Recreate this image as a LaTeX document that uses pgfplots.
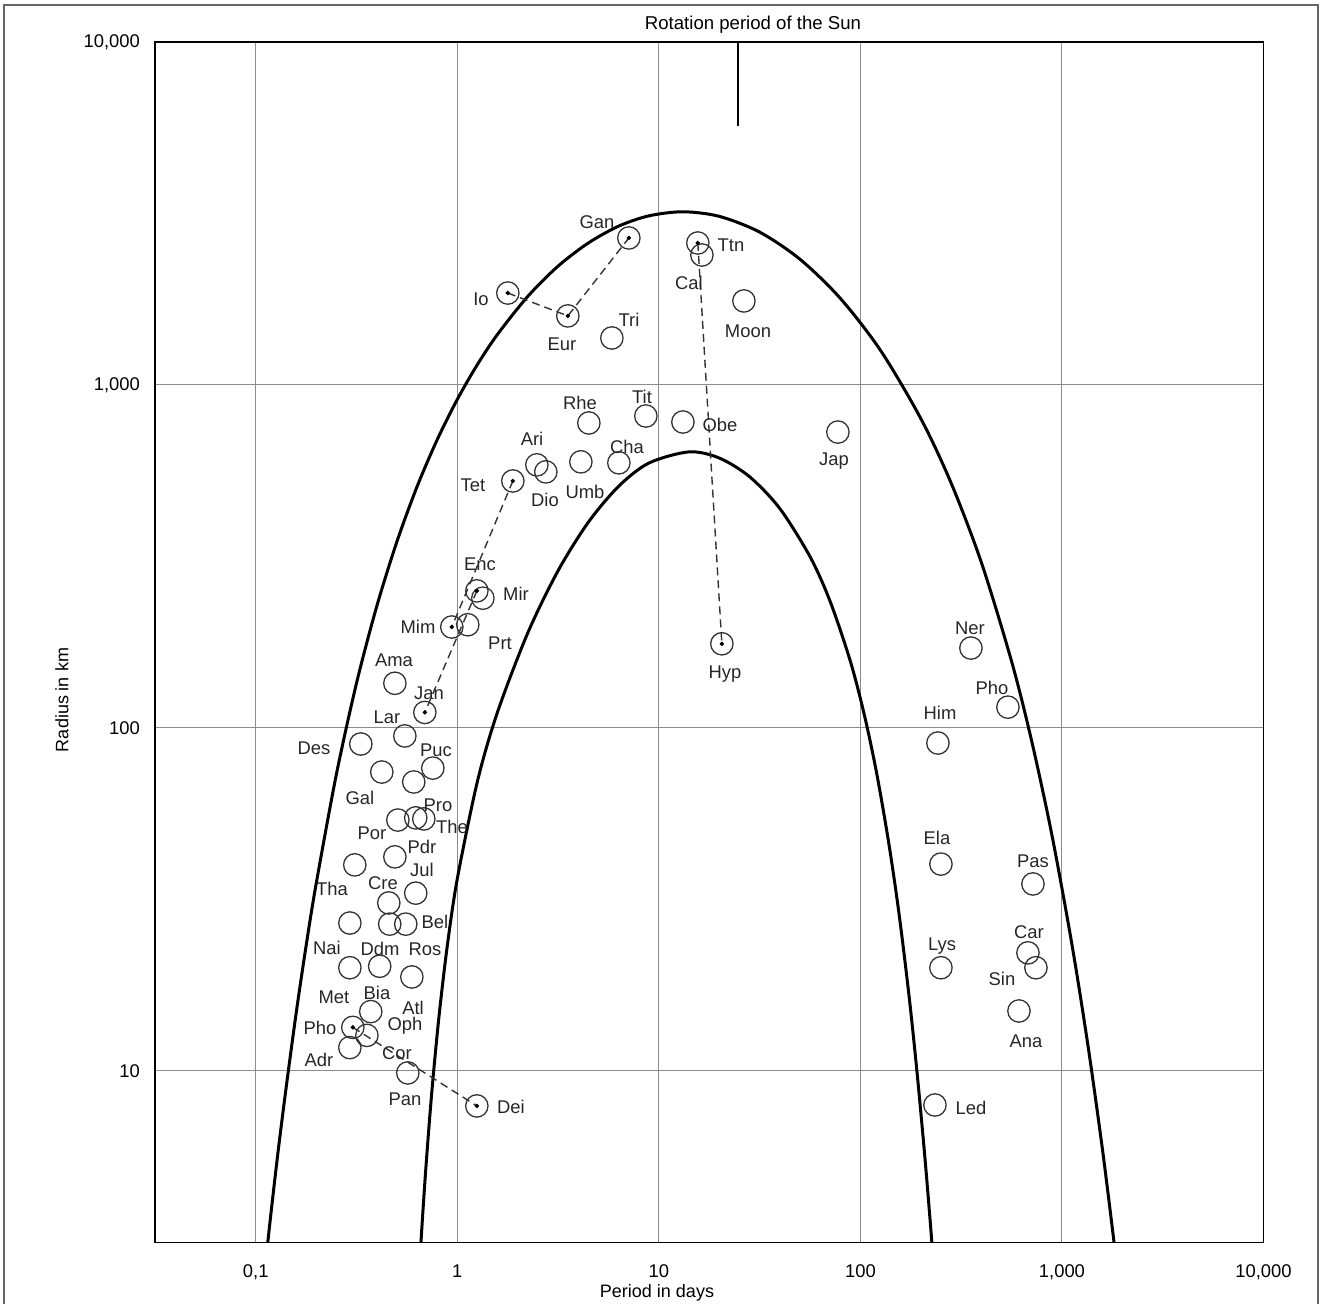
\documentclass[border=0pt]{standalone}
\usepackage{fontspec}
\setmainfont{Liberation Sans}
\usepackage{pgfplots}
\pgfplotsset{compat=1.18}
\newcommand{\lblfont}{\fontsize{9.2}{10}\selectfont}
\newcommand{\lab}[3]{\node[font=\lblfont, inner sep=0pt, text=black!85] at ({(#1-155)*0.5},{(1242.5-#2)*0.5}) {#3};}
\begin{document}
\begin{tikzpicture}[x=1pt,y=1pt]
\useasboundingbox (-77.5,-30.75) rectangle (584,621.25);
\draw[line width=0.9pt, black!60] (-75.5,-31) -- (-75.5,618.75) -- (581.5,618.75) -- (581.5,-31);
\begin{axis}[
  at={(0,0)}, anchor=south west,
  width=554.25pt, height=600.25pt, scale only axis,
  xmode=log, ymode=log,
  xmin=0.031623, xmax=10000, ymin=3.1623, ymax=10000,
  xtick={0.1,1,10,100,1000,10000},
  xticklabels={{0,1},1,10,100,{1,000},{10,000}},
  ytick={10,100,1000,10000},
  yticklabels={10,100,{1,000},{10,000}},
  xminorticks=false, yminorticks=false,
  grid=major, major grid style={black!45, line width=0.5pt},
  axis line style={line width=0.8pt},
  tick style={draw=none},
  ticklabel style={font=\fontsize{9.2}{10}\selectfont},
  xticklabel style={yshift=-7.5pt},
  yticklabel style={xshift=-4pt},
  clip=true,
]
% outer curve
\addplot[smooth, line width=1.5pt, black] coordinates {
(0.1072,2.18) (0.1175,3.606) (0.1288,5.77) (0.1413,8.89) (0.1585,14.69)
(0.1778,23.2) (0.1995,35.2) (0.2512,73.3) (0.3162,135.2) (0.3981,226)
(0.5012,349) (0.6310,505) (0.7943,692) (1.0,908) (1.259,1148)
(1.585,1406) (2.239,1814) (3.162,2221) (4.467,2594) (6.310,2904)
(8.913,3112) (13.18,3199) (19.95,3102) (31.62,2791) (50.12,2326)
(79.43,1790) (125.9,1261) (199.5,798) (281.8,518) (398.1,304)
(562.3,156.5) (707.9,91.5) (891.3,48.8) (1122,23.3) (1349,11.76)
(1585,5.965) (1778,3.48) (1950,2.20)};
% inner curve
\addplot[smooth, line width=1.5pt, black] coordinates {
(0.631,2.00) (0.6607,3.195) (0.6918,4.83) (0.7244,6.95) (0.7586,9.60)
(0.8128,14.59) (0.8913,23.11) (1.0,36.38) (1.259,70.0) (1.585,111.5)
(2.239,189.6) (3.162,287.4) (4.467,398) (6.310,506.3) (8.913,591.9)
(14.13,638.3) (19.95,612.4) (28.18,540.3) (39.81,436.5) (56.23,315.9)
(70.79,233.8) (89.13,156.6) (104.7,108.9) (120.2,74.2) (138.0,46.5)
(154.9,29.2) (173.8,16.81) (190.5,10.06) (208.9,5.60) (226.5,3.13)
(245.5,1.63)};
% rotation period of the Sun
\addplot[line width=1.3pt, black] coordinates {(24.66,10000) (24.66,5690)};
% dashed links
\addplot[line width=0.7pt, black!80, dash pattern=on 4pt off 2.5pt] coordinates {(1.781,1854) (3.535,1590) (7.10,2683)};
\addplot[line width=0.7pt, black!80, dash pattern=on 4pt off 2.5pt] coordinates {(15.61,2594) (20.54,176)};
\addplot[line width=0.7pt, black!80, dash pattern=on 4pt off 2.5pt] coordinates {(1.886,525) (0.939,197)};
\addplot[line width=0.7pt, black!80, dash pattern=on 4pt off 2.5pt] coordinates {(1.250,251) (0.690,111)};
\addplot[line width=0.7pt, black!80, dash pattern=on 4pt off 2.5pt] coordinates {(0.303,13.4) (1.250,7.91)};
% satellites
\addplot[only marks, mark=o, mark size=5.6pt, mark options={line width=0.65pt, draw=black!80}] coordinates {
(7.10,2683) (1.781,1854) (3.535,1590) (5.846,1371) (15.61,2594) (16.35,2393)
(26.42,1758) (4.494,775) (8.620,812) (13.16,780) (77.33,729) (2.481,585)
(2.749,558) (4.102,597) (6.331,593) (1.886,525) (1.250,251) (1.339,239)
(0.939,197) (1.127,200) (0.490,135) (0.690,111) (0.549,94.8) (0.332,89.8)
(0.756,76.4) (0.422,74.4) (0.608,69.6) (0.507,53.9) (0.622,54.7) (0.682,54.3)
(0.490,42.1) (0.310,39.9) (0.622,33.0) (0.457,30.9) (0.293,27.0) (0.462,26.8)
(0.555,26.8) (0.293,20.0) (0.412,20.2) (0.595,18.8) (0.372,14.9) (0.303,13.4)
(0.356,12.7) (0.293,11.7) (0.568,9.87) (1.250,7.91) (20.54,176) (353.5,171)
(539.5,115) (242.4,90.4) (250.9,40.1) (718.1,35.1) (678.2,22.1) (743.0,20.0)
(250.9,20.0) (611.9,14.96) (234.3,7.96)};
% centre dots
\addplot[only marks, mark=*, mark size=0.9pt, black] coordinates {
(7.10,2683) (1.781,1854) (3.535,1590) (15.61,2594) (20.54,176) (1.886,525)
(1.250,251) (0.939,197) (0.690,111) (0.303,13.4) (1.250,7.91)};
\end{axis}
% texts
\node[font=\fontsize{9.3}{10}\selectfont, inner sep=0pt] at ({(753-155)*0.5},{(1242.5-25)*0.5}) {Rotation period of the Sun};
\node[font=\fontsize{9}{10}\selectfont, inner sep=0pt] at ({(657-155)*0.5},{(1242.5-1293)*0.5}) {Period in days};
\node[font=\fontsize{9}{10}\selectfont, inner sep=0pt, rotate=90] at ({(62-155)*0.5},{(1242.5-700)*0.5}) {Radius in km};
\lab{597}{222}{Gan}
\lab{481}{299}{Io}
\lab{562}{344}{Eur}
\lab{629}{320}{Tri}
\lab{731}{245}{Ttn}
\lab{689}{283}{Cal}
\lab{748}{331}{Moon}
\lab{580}{403}{Rhe}
\lab{642}{397}{Tit}
\lab{720}{425}{Obe}
\lab{834}{461}{Jap}
\lab{532}{439}{Ari}
\lab{545}{500}{Dio}
\lab{585}{492}{Umb}
\lab{627}{447}{Cha}
\lab{473}{485}{Tet}
\lab{480}{564}{Enc}
\lab{516}{594}{Mir}
\lab{418}{627}{Mim}
\lab{500}{643}{Prt}
\lab{394}{660}{Ama}
\lab{429}{693}{Jan}
\lab{387}{717}{Lar}
\lab{314}{748}{Des}
\lab{436}{750}{Puc}
\lab{360}{798}{Gal}
\lab{438}{805}{Pro}
\lab{452}{827}{The}
\lab{372}{833}{Por}
\lab{422}{847}{Pdr}
\lab{422}{870}{Jul}
\lab{332}{889}{Tha}
\lab{383}{883}{Cre}
\lab{435}{922}{Bel}
\lab{327}{948}{Nai}
\lab{380}{949}{Ddm}
\lab{425}{949}{Ros}
\lab{334}{997}{Met}
\lab{377}{993}{Bia}
\lab{413}{1008}{Atl}
\lab{405}{1026}{Oph}
\lab{320}{1028}{Pho}
\lab{319}{1060}{Adr}
\lab{397}{1053}{Cor}
\lab{405}{1099}{Pan}
\lab{511}{1107}{Dei}
\lab{725}{674}{Hyp}
\lab{970}{628}{Ner}
\lab{992}{688}{Pho}
\lab{940}{713}{Him}
\lab{937}{838}{Ela}
\lab{1033}{861}{Pas}
\lab{942}{946}{Lys}
\lab{1029}{932}{Car}
\lab{1002}{979}{Sin}
\lab{1026}{1041}{Ana}
\lab{971}{1108}{Led}
\end{tikzpicture}
\end{document}
